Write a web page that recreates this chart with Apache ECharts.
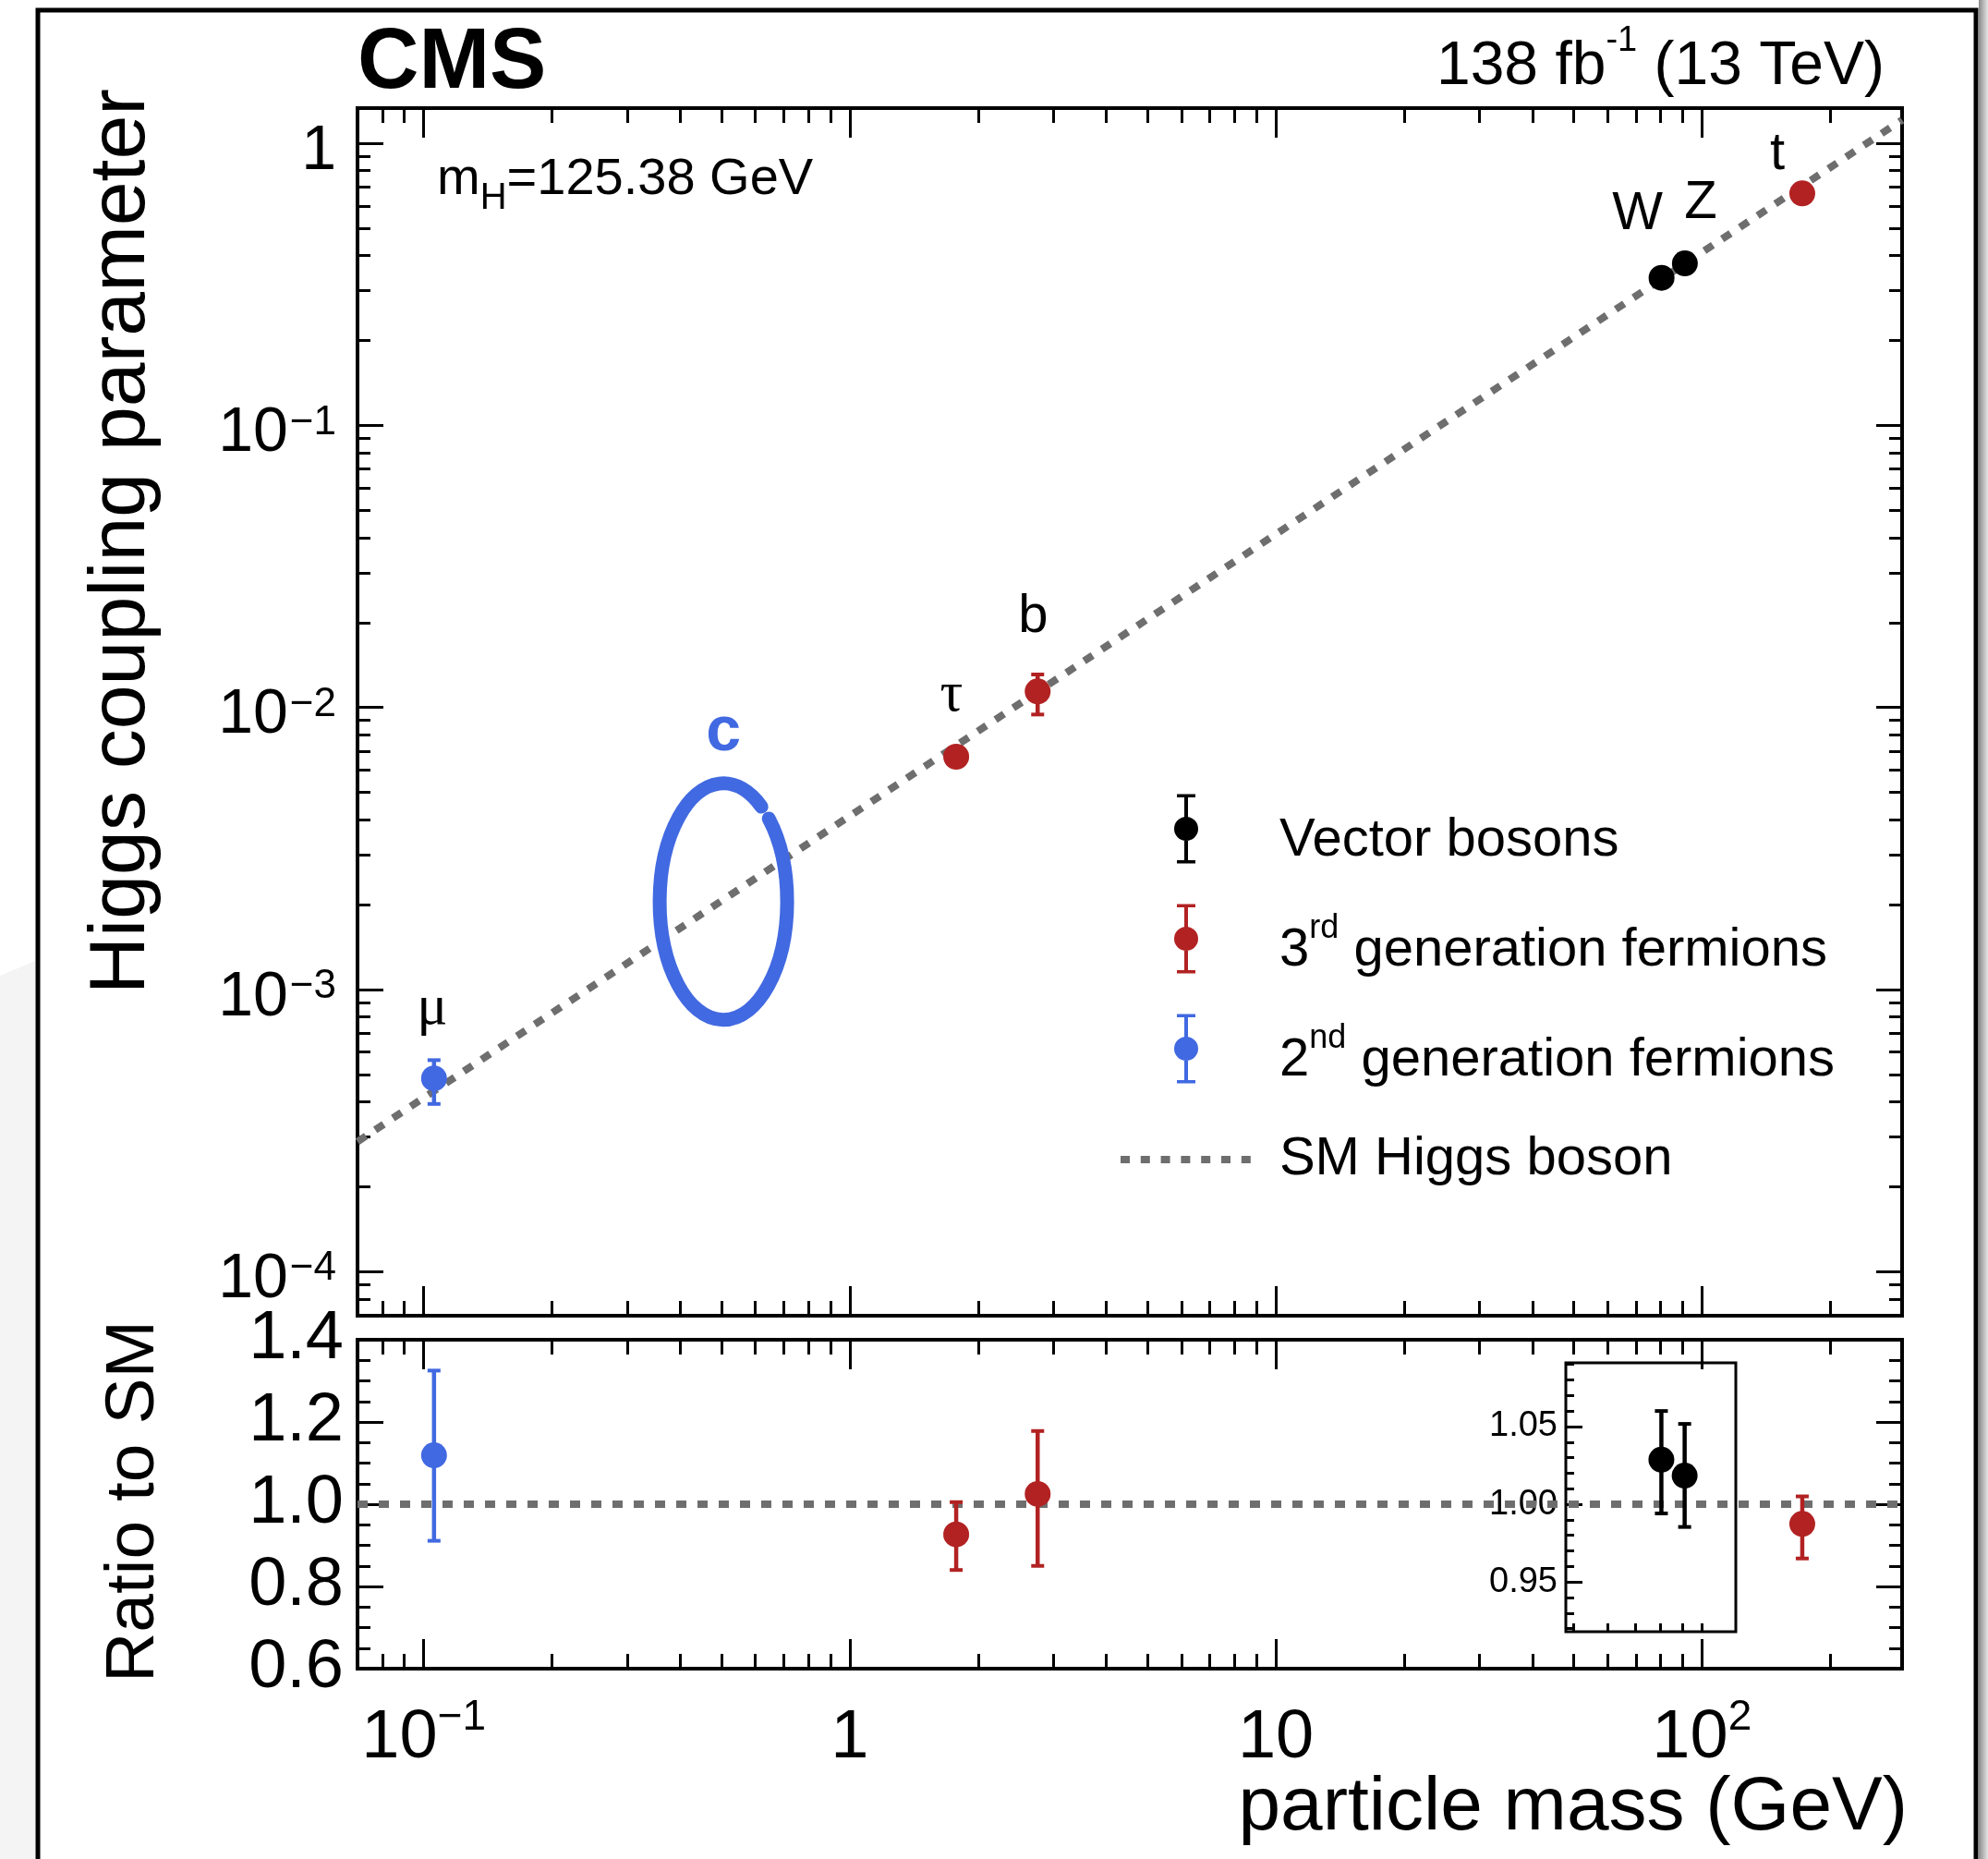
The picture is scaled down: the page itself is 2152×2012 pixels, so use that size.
<!DOCTYPE html>
<html>
<head>
<meta charset="utf-8">
<script src="https://cdn.jsdelivr.net/npm/echarts@6/dist/echarts.min.js"></script>
<style>
  html, body { margin: 0; padding: 0; background: #fff; }
  #chart { width: 2152px; height: 2012px; }
</style>
</head>
<body>
<div id="chart"></div>
<script>
// values (masses in GeV)
var vecNames = ['W', 'Z'];
var vecMass = [80.4, 91.2];
var vecCoupling = [0.3336, 0.3753];
var vecRatio = [1.0287, 1.0184];
var vecRatioLow = [0.9941, 0.9854];
var vecRatioHigh = [1.060, 1.0517];

var gen3Names = ['τ', 'b', 't'];
var gen3Mass = [1.777, 2.76, 172.0];
var gen3Coupling = [0.00669, 0.0114, 0.6646];
var gen3CouplingLow = [null, 0.00944, null];
var gen3CouplingHigh = [null, 0.01309, null];
var gen3Ratio = [0.9265, 1.025, 0.952];
var gen3RatioLow = [0.840, 0.850, 0.868];
var gen3RatioHigh = [1.005, 1.178, 1.019];

var gen2Names = ['μ'];
var gen2Mass = [0.1057];
var gen2Coupling = [4.84e-4];
var gen2CouplingLow = [3.93e-4];
var gen2CouplingHigh = [5.62e-4];
var gen2Ratio = [1.119];
var gen2RatioLow = [0.911];
var gen2RatioHigh = [1.325];

// SM expectation (end points of the dotted line)
var smMass = [0.0699, 295];
var smCoupling = [2.89e-4, 1.21];
var smRatio = [1, 1];

// hand drawn charm marker
var charmMass = [0.505];
var charmCoupling = [2.05e-3];

// tick positions
var massDecades = [0.1, 1, 10, 100];
var massMinor = [0.08, 0.09, 0.2, 0.3, 0.4, 0.5, 0.6, 0.7, 0.8, 0.9, 2, 3, 4, 5, 6, 7, 8, 9,
    20, 30, 40, 50, 60, 70, 80, 90, 200];
var couplingDecades = [0.0001, 0.001, 0.01, 0.1, 1];
var couplingMinor = [0.00008, 0.00009,
    0.0002, 0.0003, 0.0004, 0.0005, 0.0006, 0.0007, 0.0008, 0.0009,
    0.002, 0.003, 0.004, 0.005, 0.006, 0.007, 0.008, 0.009,
    0.02, 0.03, 0.04, 0.05, 0.06, 0.07, 0.08, 0.09,
    0.2, 0.3, 0.4, 0.5, 0.6, 0.7, 0.8, 0.9];
var insetMajor = [0.95, 1.00, 1.05];
var insetMinor = [0.92, 0.93, 0.94, 0.96, 0.97, 0.98, 0.99, 1.01, 1.02, 1.03, 1.04, 1.06, 1.07, 1.08, 1.09];
var insetMassTicks = [50, 60, 70, 80, 90, 100];

var RED = '#b22222', BLUE = '#4169e1', BLACK = '#000000', GREY = '#6e6e6e';
var FONT = 'Liberation Sans, Arial, Helvetica, sans-serif';
var SERIF = 'Liberation Serif, Times New Roman, serif';

var massMin = 0.0699, massMax = 295;
var couplingMin = 6.977e-5, couplingMax = 1.333;
var insetMassMin = 47.93, insetMassMax = 120.3;
var insetMin = 0.918, insetMax = 1.091;

var chart = echarts.init(document.getElementById('chart'));

function rows(mass, val, lo, hi) {
    return mass.map(function (m, i) {
        return [m, val[i], lo ? lo[i] : null, hi ? hi[i] : null];
    });
}

// label placement (px from the marker) for particle names
var labelShift = {'μ': [-2, -75], 'τ': [-5, -66], 'b': [-5, -80], 'W': [-26, -69], 'Z': [17, -65], 't': [-27, -42]};

function pointRenderer(names) {
    return function (params, api) {
        var x = api.value(0);
        var p = api.coord([x, api.value(1)]);
        var color = api.visual('color');
        var lo = api.value(2), hi = api.value(3);
        var kids = [];
        if (!isNaN(lo) && !isNaN(hi)) {
            var top = api.coord([x, hi]), bot = api.coord([x, lo]);
            kids.push({type: 'line', shape: {x1: p[0], y1: top[1], x2: p[0], y2: bot[1]}, style: {stroke: color, lineWidth: 4.5}});
            kids.push({type: 'line', shape: {x1: p[0] - 7, y1: top[1], x2: p[0] + 7, y2: top[1]}, style: {stroke: color, lineWidth: 4}});
            kids.push({type: 'line', shape: {x1: p[0] - 7, y1: bot[1], x2: p[0] + 7, y2: bot[1]}, style: {stroke: color, lineWidth: 4}});
        }
        kids.push({type: 'circle', shape: {cx: p[0], cy: p[1], r: 14}, style: {fill: color}});
        if (names) {
            var nm = names[params.dataIndex];
            var sh = labelShift[nm] || [0, -60];
            var greek = /[\u0370-\u03ff]/.test(nm);
            kids.push({
                type: 'text', x: p[0] + sh[0], y: p[1] + sh[1],
                style: {text: nm, fill: '#000', fontSize: greek ? 62 : 58, fontFamily: greek ? SERIF : FONT,
                    align: 'center', verticalAlign: 'middle'}
            });
        }
        return {type: 'group', children: kids};
    };
}

function charmRenderer(params, api) {
    var c = api.coord([api.value(0), api.value(1)]);
    var rx = 69, ry = 128;
    var t0 = -44.6 * Math.PI / 180, t1 = 306.6 * Math.PI / 180;
    var d = 'M' + (c[0] + rx * Math.cos(t0)) + ' ' + (c[1] + ry * Math.sin(t0)) +
        ' A' + rx + ' ' + ry + ' 0 1 1 ' + (c[0] + rx * Math.cos(t1)) + ' ' + (c[1] + ry * Math.sin(t1));
    return {
        type: 'group',
        children: [
            {type: 'path', shape: {pathData: d}, style: {fill: 'none', stroke: BLUE, lineWidth: 15, lineCap: 'round'}},
            {type: 'text', x: c[0], y: c[1] - 183,
                style: {text: 'c', fill: BLUE, fontSize: 68, fontWeight: 'bold', fontFamily: FONT, align: 'center', verticalAlign: 'middle'}}
        ]
    };
}

function sciLabel(v) {
    var e = Math.round(Math.log(v) / Math.LN10);
    if (e === 0) return '{n|1}';
    if (e === 1) return '{n|10}';
    return '{n|10}{s|' + (e < 0 ? '\u2212' + (-e) : e) + '}';
}

function tickAxis(type, grid, pos, min, max, ticks, len, label) {
    var ax = {
        type: type, gridIndex: grid, position: pos, min: min, max: max,
        axisLine: {show: false},
        axisTick: {show: true, inside: true, length: len, customValues: ticks, lineStyle: {color: '#000', width: 3}},
        axisLabel: {show: false},
        splitLine: {show: false}
    };
    if (type === 'log') ax.logBase = 10;
    if (label) ax.axisLabel = label;
    return ax;
}

var upperYLabel = {
    show: true, customValues: couplingDecades, margin: 23, padding: [18, 0, 0, 0],
    formatter: sciLabel,
    rich: {
        n: {fontSize: 68, fontFamily: FONT, color: '#000'},
        s: {fontSize: 44, fontFamily: FONT, color: '#000', verticalAlign: 'top', padding: [0, 0, 0, 2]}
    }
};
var lowerXLabel = {
    show: true, customValues: massDecades, margin: 30,
    formatter: sciLabel,
    rich: {
        n: {fontSize: 74, fontFamily: FONT, color: '#000', padding: [9, 0, 0, 0]},
        s: {fontSize: 46, fontFamily: FONT, color: '#000', verticalAlign: 'top'}
    }
};

var ratioAxis = function (pos, labels) {
    return {
        type: 'value', gridIndex: 1, position: pos, min: 0.6, max: 1.4, interval: 0.2,
        axisLine: {show: false},
        axisTick: {show: true, inside: true, length: 28, lineStyle: {color: '#000', width: 3}},
        minorTick: {show: true, splitNumber: 4, length: 14, lineStyle: {color: '#000', width: 3}},
        axisLabel: labels ? {show: true, fontSize: 74, fontFamily: FONT, color: '#000', margin: 15,
            showMinLabel: true, showMaxLabel: true,
            formatter: function (v) { return v.toFixed(1); }} : {show: false},
        splitLine: {show: false}
    };
};

var errIcon = 'path://M11 0h4v75h-4z M3 0h20v3.5h-20z M3 71.5h20v3.5h-20z M0 37.5a13 13 0 1 1 26 0a13 13 0 1 1 -26 0z';
var dashIcon = 'path://M0 0h10v8h-10z M21.8 0h10v8h-10z M43.6 0h10v8h-10z M65.4 0h10v8h-10z M87.2 0h10v8h-10z M109 0h10v8h-10z M130.8 0h10v8h-10z';

function legendText(name) {
    if (name === '3rd generation fermions') return '3{sup|rd} generation fermions';
    if (name === '2nd generation fermions') return '2{sup|nd} generation fermions';
    return name;
}

var option = {
    animation: false,
    backgroundColor: '#ffffff',
    textStyle: {fontFamily: FONT},
    title: [
        {text: 'CMS', left: 382, top: 19, padding: 5,
            textStyle: {fontSize: 92, fontWeight: 'bold', color: '#000', fontFamily: FONT}},
        {text: '138 fb{s|-1} (13 TeV)', right: 107, top: 21, padding: 5,
            textStyle: {fontSize: 66, fontWeight: 'normal', color: '#000', fontFamily: FONT, lineHeight: 94,
                rich: {s: {fontSize: 38, lineHeight: 38, fontWeight: 'normal', color: '#000', fontFamily: FONT, verticalAlign: 'top'}}}},
        {text: 'm{s|H}=125.38 GeV', left: 468, top: 150, padding: 5,
            textStyle: {fontSize: 56, fontWeight: 'normal', color: '#000', fontFamily: FONT,
                rich: {s: {fontSize: 40, fontWeight: 'normal', color: '#000', fontFamily: FONT, padding: [40, 0, 0, 0]}}}}
    ],
    legend: [
        {
            orient: 'vertical', left: 1266, top: 837, itemWidth: 26, itemHeight: 75, itemGap: 9,
            data: [
                {name: 'Vector bosons', icon: errIcon},
                {name: '3rd generation fermions', icon: errIcon},
                {name: '2nd generation fermions', icon: errIcon}
            ],
            formatter: legendText,
            textStyle: {fontSize: 58, lineHeight: 84, color: '#000', fontFamily: FONT, padding: [26, 0, 0, 83],
                rich: {sup: {fontSize: 36, lineHeight: 36, color: '#000', fontFamily: FONT, verticalAlign: 'top'}}}
        },
        {
            orient: 'vertical', left: 1208, top: 1191, itemWidth: 141, itemHeight: 8,
            data: [{name: 'SM Higgs boson', icon: dashIcon}],
            textStyle: {fontSize: 58, lineHeight: 84, color: '#000', fontFamily: FONT, padding: [34, 0, 0, 26]}
        }
    ],
    grid: [
        {left: 387, top: 117, width: 1672, height: 1307, show: true, borderColor: '#000', borderWidth: 4,
            backgroundColor: 'transparent', outerBoundsMode: 'none'},
        {left: 387, top: 1450, width: 1672, height: 356, show: true, borderColor: '#000', borderWidth: 4,
            backgroundColor: 'transparent', outerBoundsMode: 'none'},
        {left: 1695, top: 1475, width: 184, height: 291, show: true, borderColor: '#000', borderWidth: 3,
            backgroundColor: 'transparent', outerBoundsMode: 'none'}
    ],
    xAxis: [
        tickAxis('log', 0, 'bottom', massMin, massMax, massDecades, 32),
        tickAxis('log', 0, 'bottom', massMin, massMax, massMinor, 16),
        tickAxis('log', 0, 'top', massMin, massMax, massDecades, 32),
        tickAxis('log', 0, 'top', massMin, massMax, massMinor, 16),
        tickAxis('log', 1, 'bottom', massMin, massMax, massDecades, 32, lowerXLabel),
        tickAxis('log', 1, 'bottom', massMin, massMax, massMinor, 16),
        tickAxis('log', 1, 'top', massMin, massMax, massDecades, 32),
        tickAxis('log', 1, 'top', massMin, massMax, massMinor, 16),
        tickAxis('log', 2, 'bottom', insetMassMin, insetMassMax, insetMassTicks, 9)
    ],
    yAxis: [
        tickAxis('log', 0, 'left', couplingMin, couplingMax, couplingDecades, 28, upperYLabel),
        tickAxis('log', 0, 'left', couplingMin, couplingMax, couplingMinor, 14),
        tickAxis('log', 0, 'right', couplingMin, couplingMax, couplingDecades, 28),
        tickAxis('log', 0, 'right', couplingMin, couplingMax, couplingMinor, 14),
        ratioAxis('left', true),
        ratioAxis('right', false),
        tickAxis('value', 2, 'left', insetMin, insetMax, insetMajor, 18, {
            show: true, customValues: insetMajor, margin: 9, fontSize: 38, fontFamily: FONT, color: '#000',
            formatter: function (v) { return v.toFixed(2); }
        }),
        tickAxis('value', 2, 'left', insetMin, insetMax, insetMinor, 9)
    ],
    series: [
        {
            type: 'line', name: 'SM Higgs boson', xAxisIndex: 0, yAxisIndex: 0,
            data: smMass.map(function (m, i) { return [m, smCoupling[i]]; }),
            symbol: 'none', color: GREY, itemStyle: {color: GREY},
            lineStyle: {color: GREY, width: 8, type: [11, 12], cap: 'butt'}, z: 2, silent: true
        },
        {
            type: 'custom', name: 'charm', xAxisIndex: 0, yAxisIndex: 0,
            data: charmMass.map(function (m, i) { return [m, charmCoupling[i]]; }),
            renderItem: charmRenderer, z: 3, silent: true
        },
        {
            type: 'custom', name: 'Vector bosons', xAxisIndex: 0, yAxisIndex: 0,
            data: rows(vecMass, vecCoupling), renderItem: pointRenderer(vecNames),
            itemStyle: {color: BLACK}, z: 4
        },
        {
            type: 'custom', name: '3rd generation fermions', xAxisIndex: 0, yAxisIndex: 0,
            data: rows(gen3Mass, gen3Coupling, gen3CouplingLow, gen3CouplingHigh), renderItem: pointRenderer(gen3Names),
            itemStyle: {color: RED}, z: 4
        },
        {
            type: 'custom', name: '2nd generation fermions', xAxisIndex: 0, yAxisIndex: 0,
            data: rows(gen2Mass, gen2Coupling, gen2CouplingLow, gen2CouplingHigh), renderItem: pointRenderer(gen2Names),
            itemStyle: {color: BLUE}, z: 4
        },
        {
            type: 'line', name: 'SM Higgs boson', xAxisIndex: 4, yAxisIndex: 4,
            data: smMass.map(function (m, i) { return [m, smRatio[i]]; }),
            symbol: 'none', color: GREY, itemStyle: {color: GREY},
            lineStyle: {color: GREY, width: 8, type: [11, 12], cap: 'butt'}, z: 2, silent: true
        },
        {
            type: 'custom', name: '3rd generation fermions', xAxisIndex: 4, yAxisIndex: 4,
            data: rows(gen3Mass, gen3Ratio, gen3RatioLow, gen3RatioHigh), renderItem: pointRenderer(null),
            itemStyle: {color: RED}, z: 4
        },
        {
            type: 'custom', name: '2nd generation fermions', xAxisIndex: 4, yAxisIndex: 4,
            data: rows(gen2Mass, gen2Ratio, gen2RatioLow, gen2RatioHigh), renderItem: pointRenderer(null),
            itemStyle: {color: BLUE}, z: 4
        },
        {
            type: 'custom', name: 'Vector bosons', xAxisIndex: 8, yAxisIndex: 6,
            data: rows(vecMass, vecRatio, vecRatioLow, vecRatioHigh), renderItem: pointRenderer(null),
            itemStyle: {color: BLACK}, z: 4
        }
    ],
    graphic: [
        {type: 'polygon', shape: {points: [[0, 1056], [38, 1040], [38, 2012], [0, 2012]]},
            style: {fill: '#f4f4f4'}, z: -10, silent: true},
        {type: 'rect', shape: {x: 2142, y: 0, width: 10, height: 2012}, z: -10, silent: true,
            style: {fill: new echarts.graphic.LinearGradient(0, 0, 1, 0, [
                {offset: 0, color: '#8a8a8a'}, {offset: 1, color: '#e6e6e6'}])}},
        {type: 'rect', shape: {x: 41, y: 11, width: 2098, height: 2100},
            style: {fill: 'none', stroke: '#000', lineWidth: 5}, z: 10, silent: true},
        {type: 'text', x: 132, y: 586, rotation: Math.PI / 2, silent: true,
            style: {text: 'Higgs coupling parameter', fontSize: 86, fontFamily: FONT, fill: '#000',
                align: 'center', verticalAlign: 'middle'}},
        {type: 'text', x: 145, y: 1625, rotation: Math.PI / 2, silent: true,
            style: {text: 'Ratio to SM', fontSize: 75, fontFamily: FONT, fill: '#000',
                align: 'center', verticalAlign: 'middle'}},
        {type: 'text', x: 2065, y: 1998, silent: true,
            style: {text: 'particle mass (GeV)', fontSize: 82, fontFamily: FONT, fill: '#000',
                align: 'right', verticalAlign: 'bottom'}}
    ]
};

chart.setOption(option);
</script>
</body>
</html>
